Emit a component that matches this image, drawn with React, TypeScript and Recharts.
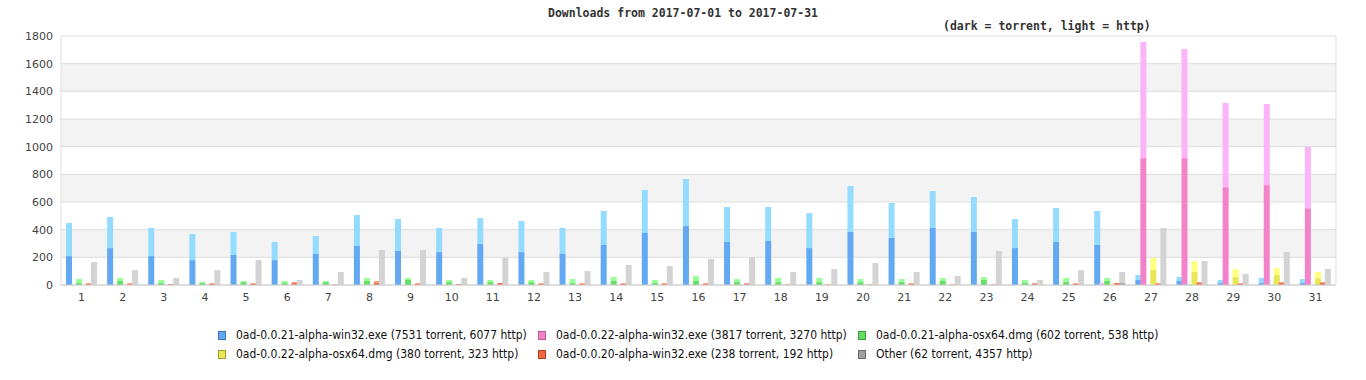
import { BarChart, Bar, XAxis, YAxis, CartesianGrid } from 'recharts';

const days = ['1', '2', '3', '4', '5', '6', '7', '8', '9', '10', '11', '12', '13', '14', '15', '16', '17', '18', '19', '20', '21', '22', '23', '24', '25', '26', '27', '28', '29', '30', '31'];

const win21Torrent = [209, 267, 209, 180, 217, 180, 224, 282, 246, 238, 296, 238, 224, 289, 376, 426, 311, 318, 267, 383, 340, 412, 383, 267, 311, 289, 36, 29, 14, 14, 14];
const win21Http = [239, 225, 203, 189, 166, 131, 130, 224, 231, 174, 188, 225, 188, 246, 311, 340, 253, 246, 253, 333, 253, 268, 253, 210, 246, 246, 36, 29, 22, 37, 29];

const win22Torrent = [0, 0, 0, 0, 0, 0, 0, 0, 0, 0, 0, 0, 0, 0, 0, 0, 0, 0, 0, 0, 0, 0, 0, 0, 0, 0, 917, 917, 707, 722, 555];
const win22Http = [0, 0, 0, 0, 0, 0, 0, 0, 0, 0, 0, 0, 0, 0, 0, 0, 0, 0, 0, 0, 0, 0, 0, 0, 0, 14, 840, 789, 609, 586, 443];

const osx21Torrent = [14, 29, 14, 14, 21, 14, 21, 29, 36, 21, 21, 21, 14, 29, 14, 29, 21, 21, 21, 21, 21, 29, 36, 14, 21, 29, 0, 0, 0, 0, 0];
const osx21Http = [29, 22, 22, 8, 8, 15, 8, 22, 15, 15, 15, 15, 29, 29, 22, 36, 22, 30, 30, 22, 22, 22, 22, 22, 30, 22, 0, 7, 0, 0, 0];

const osx22Torrent = [0, 0, 0, 0, 0, 0, 0, 0, 0, 0, 0, 0, 0, 0, 0, 0, 0, 0, 0, 0, 0, 0, 0, 0, 0, 0, 108, 94, 58, 72, 50];
const osx22Http = [0, 0, 0, 0, 0, 0, 0, 0, 0, 0, 0, 0, 0, 0, 0, 0, 0, 0, 0, 0, 0, 0, 0, 0, 0, 7, 87, 79, 58, 51, 44];

const win20Torrent = [7, 7, 7, 7, 7, 14, 0, 15, 7, 7, 14, 7, 7, 7, 7, 7, 7, 0, 0, 0, 7, 0, 0, 7, 7, 14, 7, 14, 7, 14, 14];
const win20Http = [7, 7, 0, 7, 7, 8, 7, 14, 7, 0, 0, 7, 7, 7, 7, 7, 7, 7, 7, 7, 7, 7, 7, 7, 7, 0, 7, 8, 7, 8, 8];

const otherTorrent = [0, 0, 0, 0, 0, 0, 0, 0, 0, 0, 0, 0, 0, 0, 0, 0, 0, 0, 0, 0, 0, 0, 0, 0, 0, 14, 0, 0, 0, 0, 0];
const otherHttp = [166, 108, 51, 108, 181, 36, 94, 253, 253, 51, 197, 94, 101, 145, 137, 188, 202, 94, 116, 159, 94, 65, 246, 36, 108, 80, 412, 173, 80, 239, 116];

const yTicks = [0, 200, 400, 600, 800, 1000, 1200, 1400, 1600, 1800];

const series = [
  { key: 'win21', label: '0ad-0.0.21-alpha-win32.exe (7531 torrent, 6077 http)', torrent: win21Torrent, http: win21Http, dark: '#62a8f2', light: '#94dcff', border: '#3c78b8' },
  { key: 'win22', label: '0ad-0.0.22-alpha-win32.exe (3817 torrent, 3270 http)', torrent: win22Torrent, http: win22Http, dark: '#f283ca', light: '#fdb3f9', border: '#b85c96' },
  { key: 'osx21', label: '0ad-0.0.21-alpha-osx64.dmg (602 torrent, 538 http)', torrent: osx21Torrent, http: osx21Http, dark: '#66dd66', light: '#99ff99', border: '#3c9c3c' },
  { key: 'osx22', label: '0ad-0.0.22-alpha-osx64.dmg (380 torrent, 323 http)', torrent: osx22Torrent, http: osx22Http, dark: '#e8e854', light: '#ffff80', border: '#a0a030' },
  { key: 'win20', label: '0ad-0.0.20-alpha-win32.exe (238 torrent, 192 http)', torrent: win20Torrent, http: win20Http, dark: '#f26640', light: '#ffa080', border: '#b04020' },
  { key: 'other', label: 'Other (62 torrent, 4357 http)', torrent: otherTorrent, http: otherHttp, dark: '#a0a0a0', light: '#d3d3d3', border: '#6c6c6c' },
];

const data = days.map((d, i) => {
  const row: Record<string, string | number> = { day: d };
  series.forEach((s) => {
    row[`${s.key}T`] = s.torrent[i];
    row[`${s.key}H`] = s.http[i];
  });
  return row;
});

const tick = { fill: '#444', fontSize: 11, fontFamily: 'DejaVu Sans, sans-serif' };
const mono = "'DejaVu Sans Mono', monospace";

const legendCols = [218, 538, 858];
const legendRows = [335, 354];

export default function App() {
  return (
    <div style={{ position: 'absolute', left: 0, top: 0, width: 1366, height: 380, background: '#fff' }}>
      <div
        style={{
          position: 'absolute', left: 0, top: 5, width: 1366, textAlign: 'center',
          fontFamily: mono, fontWeight: 'bold', fontSize: 11.5, color: '#333', lineHeight: '16px',
        }}
      >
        Downloads from 2017-07-01 to 2017-07-31
      </div>
      <div
        style={{
          position: 'absolute', left: 943, top: 18, fontFamily: mono, fontWeight: 'bold',
          fontSize: 11.5, color: '#333', lineHeight: '16px', whiteSpace: 'pre',
        }}
      >
        (dark = torrent, light = http)
      </div>
      <BarChart
        width={1366}
        height={380}
        data={data}
        barSize={6}
        barGap={-1}
        margin={{ top: 36, right: 30, bottom: 70, left: 10 }}
      >
        <CartesianGrid
          stroke="#dddddd"
          horizontalFill={['#ffffff', '#f3f3f3']}
          fillOpacity={1}
          verticalCoordinatesGenerator={({ offset }: any) => [offset.left + offset.width]}
        />
        <XAxis dataKey="day" tick={tick} tickLine={false} axisLine={{ stroke: '#cccccc' }} height={25} interval={0} />
        <YAxis domain={[0, 1800]} ticks={yTicks} tick={tick} tickLine={false} axisLine={{ stroke: '#dddddd' }} width={51} />
        {series.map((s) => [
          <Bar key={`${s.key}T`} dataKey={`${s.key}T`} stackId={s.key} fill={s.dark} isAnimationActive={false} />,
          <Bar key={`${s.key}H`} dataKey={`${s.key}H`} stackId={s.key} fill={s.light} isAnimationActive={false} />,
        ])}
      </BarChart>
      {series.map((s, i) => {
        const left = legendCols[i % 3];
        const top = legendRows[Math.floor(i / 3)];
        return (
          <div key={s.key} style={{ position: 'absolute', left, top: top - 7, height: 14, display: 'flex', alignItems: 'center', whiteSpace: 'nowrap' }}>
            <span style={{ display: 'inline-block', width: 6, height: 7, background: s.dark, border: `1px solid ${s.border}` }} />
            <span
              style={{
                marginLeft: 10, fontFamily: "'DejaVu Sans Condensed', 'Liberation Sans Narrow', sans-serif",
                fontSize: 12, color: '#111', fontStretch: 'condensed',
              }}
            >
              {s.label}
            </span>
          </div>
        );
      })}
    </div>
  );
}
